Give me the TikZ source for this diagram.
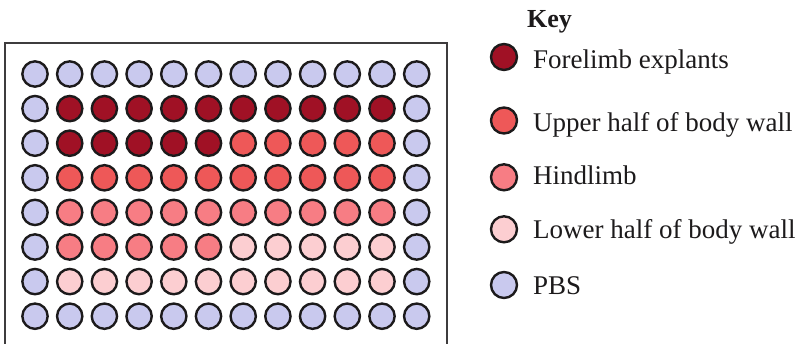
\documentclass[tikz,border=0pt]{standalone}
\usepackage{fontspec}
\setmainfont{Liberation Serif}
\definecolor{forelimb}{HTML}{A01125}
\definecolor{upperwall}{HTML}{EE5858}
\definecolor{hindlimb}{HTML}{F77D84}
\definecolor{lowerwall}{HTML}{FCCED1}
\definecolor{pbs}{HTML}{C9C9EE}
\definecolor{rim}{HTML}{1C1A1B}
\begin{document}
\begin{tikzpicture}[x=1pt,y=-1pt,
  well/.style={circle,draw=rim,line width=2.4pt,minimum size=25.3pt,inner sep=0pt},
  keywell/.style={well,minimum size=26pt},
  keytext/.style={anchor=base west,inner sep=0pt,font=\fontsize{27}{29}\selectfont,text=rim},
  plate/.style={draw=rim!85,line width=2pt}]
\useasboundingbox (0,0) rectangle (795,344);
\clip (0,0) rectangle (795,344);
% plate outline (runs past the lower edge)
\draw[plate] (5,43.5) rectangle (446.5,360);
% wells: first and last columns hold PBS, the middle ten are split per row
\foreach \r/\left/\right in {
  1/pbs/pbs,
  2/forelimb/forelimb,
  3/forelimb/upperwall,
  4/upperwall/upperwall,
  5/hindlimb/hindlimb,
  6/hindlimb/lowerwall,
  7/lowerwall/lowerwall,
  8/pbs/pbs}{
  \foreach \c in {1,...,12}{
    \ifnum\c=1 \def\wc{pbs}\else
      \ifnum\c=12 \def\wc{pbs}\else
        \ifnum\c<7 \let\wc\left\else\let\wc\right\fi
      \fi
    \fi
    \node[well,fill=\wc] (w-\r-\c) at ({35+34.7*(\c-1)},{74+34.6*(\r-1)}) {};
  }
}
% key
\node[anchor=base west,inner sep=0pt,font=\fontsize{26}{28}\selectfont\bfseries,text=rim] (keytitle) at (527,28) {Key};
\node[keywell,fill=forelimb] (k1) at (504,57) {};
\node[keytext] (t1) at (533,69) {Forelimb explants};
\node[keywell,fill=upperwall] (k2) at (504,120.5) {};
\node[keytext] (t2) at (533,131.7) {Upper half of body wall};
\node[keywell,fill=hindlimb] (k3) at (504,177.3) {};
\node[keytext] (t3) at (533,185) {Hindlimb};
\node[keywell,fill=lowerwall] (k4) at (504,229.3) {};
\node[keytext] (t4) at (533,238.3) {Lower half of body wall};
\node[keywell,fill=pbs] (k5) at (504,285) {};
\node[keytext] (t5) at (533,295) {PBS};
\end{tikzpicture}
\end{document}
